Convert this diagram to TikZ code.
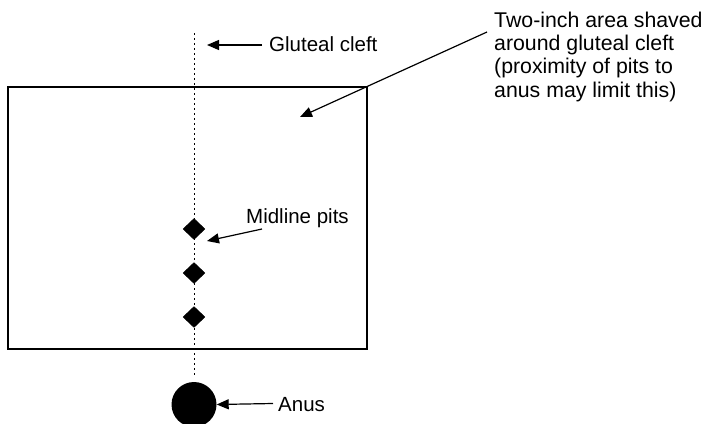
\documentclass[tikz,border=0pt]{standalone}
\usepackage{fontspec}
\setmainfont{Liberation Sans}
\usetikzlibrary{arrows.meta,shapes.geometric}
\begin{document}
\begin{tikzpicture}[x=1pt,y=-1pt,
  lbl/.style={font=\fontsize{20.5}{23.2}\selectfont, inner sep=0pt, anchor=base west},
  pointer/.style={line width=1.2pt, -{Triangle[length=12pt,width=10pt]}},
  pit/.style={diamond, fill=black, draw=black, inner sep=0pt, minimum width=22pt, minimum height=21pt},
  midline/.style={line width=1pt, dash pattern=on 1.6pt off 3.4pt}]
\useasboundingbox (0,0) rectangle (706,423);
% shaved area
\draw[line width=1.3pt] (8,87) rectangle (367,349);
% gluteal cleft midline
\coordinate (top) at (194,33);
\coordinate (bot) at (194,377);
\draw[midline] (top) -- (bot);
% pits
\node[pit] (p1) at (194,229) {};
\node[pit] (p2) at (194,273) {};
\node[pit] (p3) at (194,317) {};
% anus
\node[circle, fill=black, inner sep=0pt, minimum size=45pt] (anus) at (194,404.5) {};
% labels
\node[lbl] (gl) at (269,51) {Gluteal cleft};
\node[lbl] (mp) at (246,223) {Midline pits};
\node[lbl] (an) at (278,411) {Anus};
\node[lbl, align=left, font=\fontsize{21.3}{23.2}\selectfont] (two) at (494,97) {Two-inch area shaved\\around gluteal cleft\\(proximity of pits to\\anus may limit this)};
% arrows
\coordinate (glt) at (262,45);
\coordinate (glh) at (207,45);
\draw[pointer] (glt) -- (glh);
\coordinate (mpt) at (262,229);
\coordinate (mph) at (207,241);
\draw[pointer] (mpt) -- (mph);
\coordinate (ant) at (273,403.5);
\draw[pointer] (ant) -- (anus.east);
\coordinate (twt) at (487,32);
\coordinate (twh) at (300,117);
\draw[pointer] (twt) -- (twh);
\end{tikzpicture}
\end{document}
